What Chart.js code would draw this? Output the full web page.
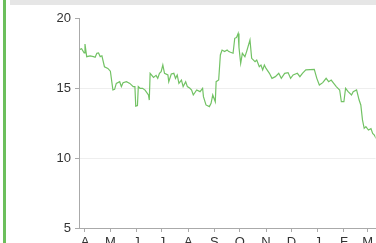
<!DOCTYPE html>
<html>
<head>
<meta charset="utf-8">
<script src="https://cdn.jsdelivr.net/npm/chart.js@4/dist/chart.umd.min.js"></script>
<style>
    body { margin: 0; background: #fff; overflow: hidden; }
    #side { position: absolute; left: 3px; top: 0; width: 3px; height: 243px; background: #6cbf5c; }
    #top { position: absolute; left: 10px; top: 0; width: 366px; height: 5px; background: #e6e6e6; }
    #wrap { position: absolute; left: 0; top: 0; width: 376px; height: 260px; }
</style>
</head>
<body>
<div id="side"></div>
<div id="top"></div>
<div id="wrap"><canvas id="chart"></canvas></div>
<script>
// days counted from 1 April
const days = [-6, -4, -1, 0, 2, 6, 10, 12, 14, 16, 18, 20, 23, 27, 30, 33, 35, 37, 41, 43, 45, 49, 53, 57, 59,
    60, 62, 63, 65, 68, 71, 75, 76, 77, 81, 84, 86, 88, 90, 92, 94, 98, 99, 102, 105, 107, 109, 111, 114,
    116, 119, 121, 124, 126, 128, 132, 136, 139, 140, 143, 147, 149, 151, 154, 155, 158, 160, 162, 165,
    168, 170, 172, 175, 177, 179, 181, 182, 184, 186, 189, 191, 195, 197, 201, 203, 206, 208, 210, 212,
    214, 218, 221, 225, 229, 232, 236, 240, 243, 246, 251, 254, 257, 261, 271, 274, 277, 281, 285, 288,
    291, 294, 297, 301, 303, 306, 308, 311, 315, 317, 321, 324, 326, 328, 330, 332, 335, 338, 340, 342,
    344, 346];
const rates = [17.76, 17.8, 17.5, 18.14, 17.24, 17.3, 17.24, 17.2, 17.48, 17.5, 17.24, 17.3, 16.52, 16.4,
    16.2, 14.86, 14.9, 15.33, 15.45, 15.1, 15.38, 15.45, 15.33, 15.1, 15.1,
    13.71, 13.75, 15.1, 14.98, 14.98, 14.85, 14.5, 14.14, 16.05, 15.76, 15.9, 15.69, 16.05, 16.17, 16.64,
    16.05, 15.93, 15.45, 16.0, 16.05, 15.69, 15.93, 15.33, 15.57,
    15.1, 15.45, 15.1, 14.98, 14.86, 14.5, 14.86, 14.74, 14.98, 14.38, 13.79, 13.67, 13.9, 14.5, 14.02,
    15.45, 15.57, 17.36, 17.71, 17.6,
    17.71, 17.6, 17.55, 17.48, 18.55, 18.6, 18.9, 17.9, 16.76, 17.48, 17.24, 17.6, 18.43, 17.12, 16.88,
    17.0, 16.52, 16.64, 16.29, 16.64,
    16.4, 16.05, 15.69, 15.81, 16.05, 15.69, 16.05, 16.1, 15.69, 15.93, 16.05, 15.81, 16.05, 16.29,
    16.33, 15.69, 15.21, 15.38, 15.69, 15.45,
    15.57, 15.33, 15.1, 14.86, 14.02, 14.02, 14.98, 14.74, 14.5, 14.74, 14.86, 14.14, 13.79, 12.71,
    12.12, 12.24, 12.0, 12.1, 11.76, 11.64,
    11.4, 11.5];

const monthStarts = [0, 30, 61, 91, 122, 153, 183, 214, 244, 275, 306, 334];
const monthLabels = ['A', 'M', 'J', 'J', 'A', 'S', 'O', 'N', 'D', 'J', 'F', 'M'];
const yTicks = [5, 10, 15, 20];

const axisColor = '#aaaaaa';

new Chart(document.getElementById('chart'), {
    type: 'line',
    data: {
        datasets: [{
            data: days.map((d, i) => ({ x: d, y: rates[i] })),
            borderColor: '#72c264',
            borderWidth: 1.2,
            pointRadius: 0,
            tension: 0,
            fill: false
        }]
    },
    options: {
        responsive: true,
        maintainAspectRatio: false,
        animation: false,
        layout: { padding: { top: 18, left: 0, right: 0, bottom: 0 } },
        plugins: { legend: { display: false }, tooltip: { enabled: false } },
        scales: {
            x: {
                type: 'linear',
                min: -7.08,
                max: 343.4,
                afterFit: s => { s.height = 32; },
                afterBuildTicks: s => { s.ticks = monthStarts.map(v => ({ value: v })); },
                ticks: {
                    autoSkip: false,
                    maxRotation: 0,
                    padding: 3,
                    color: '#333',
                    font: { family: 'Liberation Sans, Arial', size: 13 },
                    callback: (v) => monthLabels[monthStarts.indexOf(v)]
                },
                grid: { drawOnChartArea: false, color: axisColor, tickLength: 4 },
                border: { color: axisColor }
            },
            y: {
                min: 5,
                max: 20,
                afterFit: s => { s.width = 79; },
                afterBuildTicks: s => { s.ticks = yTicks.map(v => ({ value: v })); },
                ticks: {
                    padding: 4,
                    color: '#333',
                    font: { family: 'Liberation Sans, Arial', size: 13 }
                },
                grid: {
                    color: c => (c.tick && (c.tick.value === 20 || c.tick.value === 5)) ? 'rgba(0,0,0,0)' : '#eeeeee',
                    tickColor: axisColor,
                    tickLength: 4
                },
                border: { color: axisColor }
            }
        }
    }
});
</script>
</body>
</html>
